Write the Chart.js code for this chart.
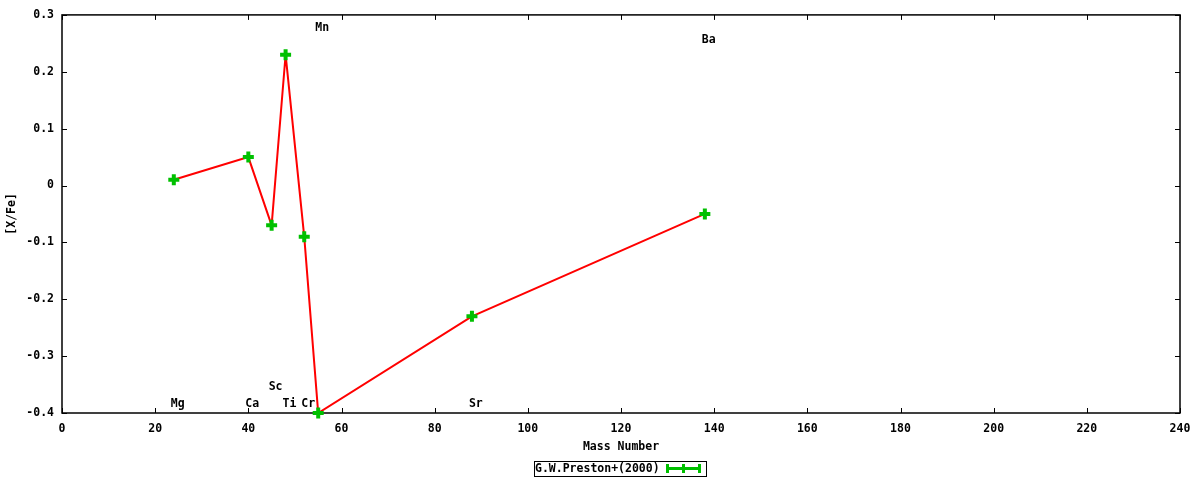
<!DOCTYPE html>
<html>
<head>
<meta charset="utf-8">
<script src="https://cdn.jsdelivr.net/npm/chart.js@4/dist/chart.umd.min.js"></script>
<style>
html,body{margin:0;padding:0;background:#fff;}
canvas{display:block;}
</style>
</head>
<body>
<canvas id="c" width="1200" height="480"></canvas>
<script>
// ---- data ----
const elements = ["Mg","Ca","Sc","Ti","Cr","Mn","Sr","Ba"];
const massNumbers = [24, 40, 45, 48, 52, 55, 88, 138];
const xFe = [0.01, 0.05, -0.07, 0.23, -0.09, -0.40, -0.23, -0.05];
const labelY = [-0.38, -0.38, -0.35, -0.38, -0.38, 0.28, -0.38, 0.26];
const seriesName = "G.W.Preston+(2000)";
const xTitle = "Mass Number";
const yTitle = "[X/Fe]";

const FONT = "'DejaVu Sans Mono', 'Liberation Mono', monospace";
const GREEN = "#00c000";

const pts = massNumbers.map((m, i) => ({x: m, y: xFe[i]}));

const decor = {
  id: 'decor',
  beforeDatasetsDraw(chart) {
    const {ctx, chartArea: a, scales: {x, y}} = chart;
    ctx.save();
    ctx.strokeStyle = '#000';
    ctx.lineWidth = 1;
    ctx.beginPath();
    x.ticks.forEach(t => {
      const px = Math.round(x.getPixelForValue(t.value)) + 0.5;
      ctx.moveTo(px, a.bottom); ctx.lineTo(px, a.bottom - 5);
      ctx.moveTo(px, a.top); ctx.lineTo(px, a.top + 5);
    });
    y.ticks.forEach(t => {
      const py = Math.round(y.getPixelForValue(t.value)) + 0.5;
      ctx.moveTo(a.left, py); ctx.lineTo(a.left + 5, py);
      ctx.moveTo(a.right, py); ctx.lineTo(a.right - 5, py);
    });
    ctx.stroke();
    ctx.lineWidth = 1.5;
    ctx.strokeRect(a.left, a.top, a.right - a.left, a.bottom - a.top);
    ctx.restore();
  },
  afterDatasetsDraw(chart) {
    const {ctx, chartArea: a, scales: {x, y}} = chart;
    ctx.save();
    ctx.fillStyle = '#000';
    ctx.font = "bold 11.5px " + FONT;
    ctx.textAlign = 'left';
    ctx.textBaseline = 'middle';
    elements.forEach((el, i) => {
      ctx.fillText(el, x.getPixelForValue(massNumbers[i]) - 3, y.getPixelForValue(labelY[i]) + 2);
    });
    ctx.textAlign = 'center';
    ctx.fillText(xTitle, (a.left + a.right) / 2, 447);
    ctx.save();
    ctx.translate(12, (a.top + a.bottom) / 2);
    ctx.rotate(-Math.PI / 2);
    ctx.fillText(yTitle, 0, 0);
    ctx.restore();
    ctx.textAlign = 'left';
    ctx.fillText(seriesName, 535, 469);
    ctx.lineWidth = 1;
    ctx.strokeStyle = '#000';
    ctx.strokeRect(534.5, 461.5, 172, 15);
    ctx.strokeStyle = GREEN;
    ctx.lineWidth = 3;
    ctx.beginPath();
    ctx.moveTo(667, 468.5); ctx.lineTo(700, 468.5);
    ctx.moveTo(667.5, 464); ctx.lineTo(667.5, 473);
    ctx.moveTo(699.5, 464); ctx.lineTo(699.5, 473);
    ctx.moveTo(683.5, 464); ctx.lineTo(683.5, 473);
    ctx.stroke();
    ctx.restore();
  }
};

new Chart(document.getElementById('c'), {
  type: 'scatter',
  data: {
    datasets: [{
      label: seriesName,
      data: pts,
      showLine: true,
      clip: false,
      borderColor: '#ff0000',
      borderWidth: 2,
      tension: 0,
      pointStyle: 'cross',
      pointRadius: 5.5,
      pointBorderWidth: 4,
      pointBorderColor: GREEN,
      pointBackgroundColor: GREEN,
      pointHoverRadius: 5.5
    }]
  },
  options: {
    responsive: false,
    animation: false,
    devicePixelRatio: 1,
    layout: {padding: {top: 14, right: 20, left: 0, bottom: 0}},
    plugins: {legend: {display: false}, tooltip: {enabled: false}},
    scales: {
      x: {
        type: 'linear', min: 0, max: 240,
        ticks: {stepSize: 20, padding: 9, color: '#000', font: {family: FONT, size: 11.5, weight: 'bold'}, maxRotation: 0},
        grid: {display: false, drawTicks: false},
        border: {display: false},
        afterFit(s) { s.height = 67; }
      },
      y: {
        type: 'linear', min: -0.4, max: 0.3,
        ticks: {stepSize: 0.1, padding: 8, color: '#000', font: {family: FONT, size: 11.5, weight: 'bold'},
          callback: v => { const r = Math.round(v * 10) / 10; return r === 0 ? '0' : r.toFixed(1); }},
        grid: {display: false, drawTicks: false},
        border: {display: false},
        afterFit(s) { s.width = 62; }
      }
    }
  },
  plugins: [decor]
});
</script>
</body>
</html>
